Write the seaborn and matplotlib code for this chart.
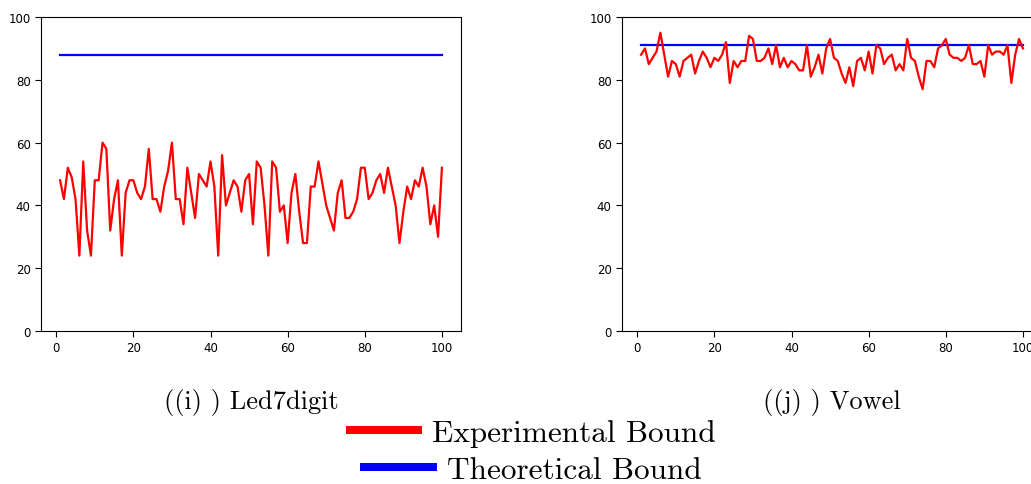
import numpy as np
import pandas as pd
import matplotlib
matplotlib.use("Agg")
import matplotlib.pyplot as plt
import seaborn as sns
from matplotlib.lines import Line2D

# ---------------- data ----------------
runs = list(range(1, 101))

experimental_led7digit = [
    48, 42, 52, 49, 42, 24, 54, 32, 24, 48,
    48, 60, 58, 32, 42, 48, 24, 44, 48, 48,
    44, 42, 46, 58, 42, 42, 38, 46, 51, 60,
    42, 42, 34, 52, 44, 36, 50, 48, 46, 54,
    46, 24, 56, 40, 44, 48, 46, 38, 48, 50,
    34, 54, 52, 40, 24, 54, 52, 38, 40, 28,
    44, 50, 38, 28, 28, 46, 46, 54, 47, 40,
    36, 32, 44, 48, 36, 36, 38, 42, 52, 52,
    42, 44, 48, 50, 44, 52, 46, 40, 28, 38,
    46, 42, 48, 46, 52, 46, 34, 40, 30, 52,
]

experimental_vowel = [
    88, 90, 85, 87, 89, 95, 88, 81, 86, 85,
    81, 86, 87, 88, 82, 86, 89, 87, 84, 87,
    86, 88, 92, 79, 86, 84, 86, 86, 94, 93,
    86, 86, 87, 90, 85, 91, 84, 87, 84, 86,
    85, 83, 83, 91, 81, 84, 88, 82, 90, 93,
    87, 86, 82, 79, 84, 78, 86, 87, 83, 89,
    82, 91, 90, 85, 87, 88, 83, 85, 83, 93,
    87, 86, 81, 77, 86, 86, 84, 90, 91, 93,
    88, 87, 87, 86, 87, 91, 85, 85, 86, 81,
    91, 88, 89, 89, 88, 91, 79, 88, 93, 90,
]

theory_x = [1, 100]
theory_led7digit = [88, 88]
theory_vowel = [91, 91]

captions = ["((i) ) Led7digit", "((j) ) Vowel"]
legend_labels = ["Experimental Bound", "Theoretical Bound"]
y_ticks = [0, 20, 40, 60, 80, 100]
x_ticks = [0, 20, 40, 60, 80, 100]

# ---------------- figure ----------------
W, H = 1031, 485
fig = plt.figure(figsize=(W / 100, H / 100), dpi=100)

ax_w = 420 / W
ax_h = 314 / H
ax_b = (H - 332) / H
ax1 = fig.add_axes([41 / W, ax_b, ax_w, ax_h])
ax2 = fig.add_axes([622 / W, ax_b, ax_w, ax_h])

panels = [
    (ax1, experimental_led7digit, theory_led7digit, captions[0]),
    (ax2, experimental_vowel, theory_vowel, captions[1]),
]

for ax, exp_vals, th_vals, cap in panels:
    df = pd.DataFrame({"run": runs, "value": exp_vals})
    dth = pd.DataFrame({"run": theory_x, "value": th_vals})
    sns.lineplot(data=dth, x="run", y="value", ax=ax, color="blue", lw=1.6)
    sns.lineplot(data=df, x="run", y="value", ax=ax, color="red", lw=1.6)
    ax.set_ylim(0, 100)
    ax.set_xlim(-3.95, 104.95)
    ax.set_yticks(y_ticks)
    ax.set_xticks(x_ticks)
    ax.tick_params(labelsize=8.5, length=4, width=0.8)
    ax.set_xlabel("")
    ax.set_ylabel("")
    for s in ax.spines.values():
        s.set_linewidth(0.8)
        s.set_color("black")
    pos = ax.get_position()
    fig.text(pos.x0 + pos.width / 2, 1 - 402 / H, cap, ha="center", va="center",
             fontsize=19, family="cmr10")

# legend rows (each row centred independently)
rows = [(legend_labels[0], "red", 434), (legend_labels[1], "blue", 471)]
for lab, col, yc in rows:
    h = Line2D([], [], color=col, lw=5.8, solid_capstyle="butt")
    fig.legend([h], [lab], loc="center", bbox_to_anchor=(531 / W, 1 - yc / H),
               frameon=False, prop={"family": "cmr10", "size": 22.5},
               handlelength=2.45, handletextpad=0.32, borderpad=0, borderaxespad=0)

fig.savefig("out.png", dpi=100)
